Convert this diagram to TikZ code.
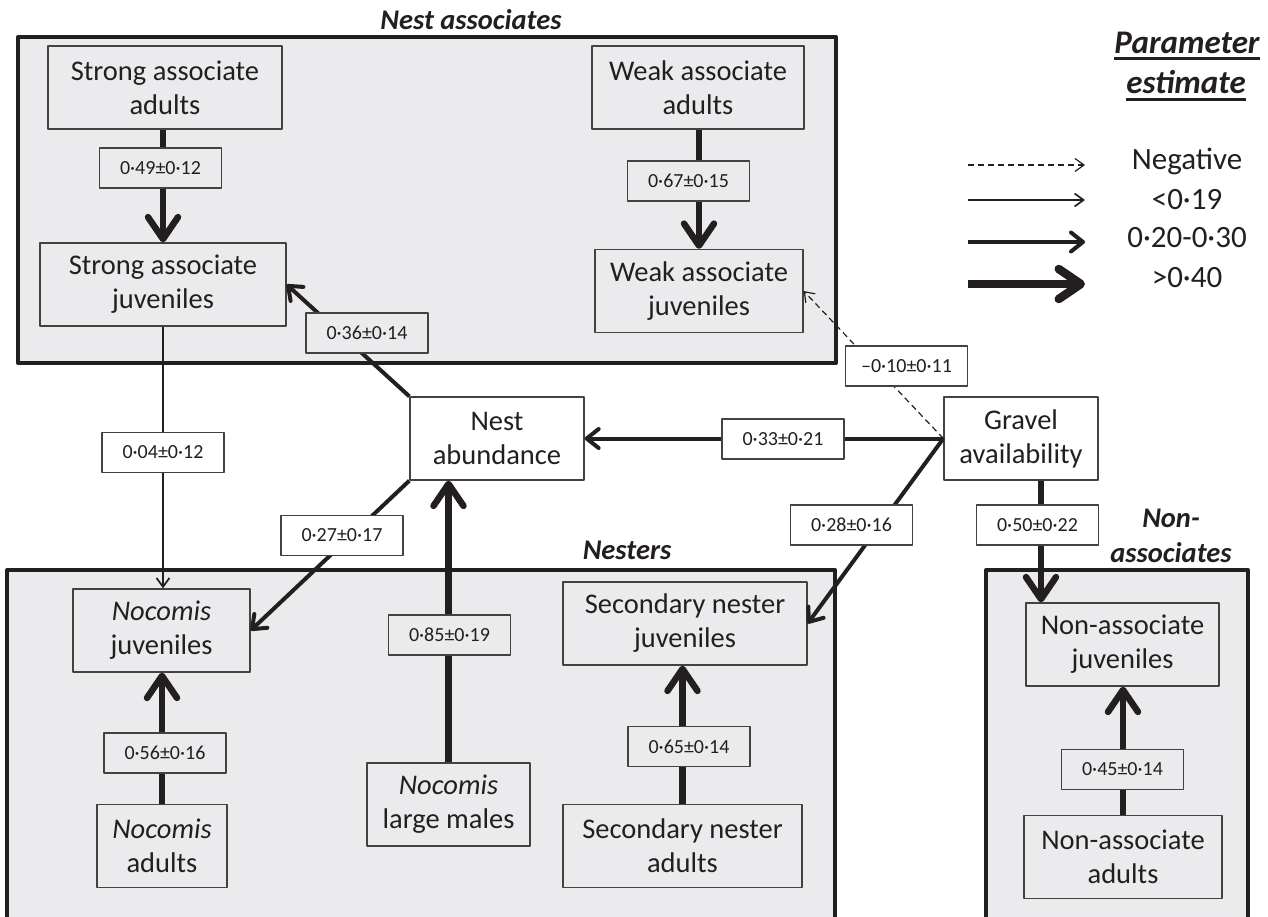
\documentclass[tikz,border=0pt]{standalone}
\usepackage{fontspec}
\setmainfont{Carlito}
\usetikzlibrary{arrows.meta}
\definecolor{panel}{RGB}{235,235,237}
\definecolor{ink}{RGB}{35,31,32}
\begin{document}
\begin{tikzpicture}[x=1pt,y=-1pt,line join=round,
    box/.style={draw=ink!85,line width=1.3pt,align=center,inner sep=0pt,text=ink,
        minimum width=#1,minimum height=83pt,font=\fontsize{28.5}{34}\selectfont},
    est/.style={draw=ink!85,line width=1.3pt,fill=white,minimum width=122pt,minimum height=40pt,
        inner sep=0pt,text=ink,font=\fontsize{20}{24}\selectfont},
    group/.style={draw=ink,line width=4pt,fill=panel},
    title/.style={text=ink,align=center,font=\fontsize{28.5}{35}\selectfont\bfseries\itshape},
    weak/.style={draw=ink,line width=1.7pt,-{Straight Barb[length=9pt,width=13pt]}},
    neg/.style={weak,line width=1.2pt,dash pattern=on 6pt off 4pt},
    mid/.style={draw=ink,line width=4pt,-{Straight Barb[length=12pt,width=19pt,round]}},
    strong/.style={draw=ink,line width=6.5pt,-{Straight Barb[length=22pt,width=30pt,round]}},
    leghigh/.style={strong,line width=8.5pt}]
    \useasboundingbox (0,0) rectangle (1268,916);

    \draw[group] (18,37) rectangle (836,363);
    \draw[group] (7,570) rectangle (835,935);
    \draw[group] (986,570) rectangle (1248,935);
    \node[title] (tassoc) at (471,20) {Nest associates};
    \node[title] (tnest) at (627,550) {Nesters};
    \node[title] (tnon) at (1171,536) {Non-\\associates};

    \node[box=234pt] (saa) at (165,87.5) {Strong associate\\adults};
    \node[box=246pt] (saj) at (163,284.5) {Strong associate\\juveniles};
    \node[box=212pt] (waa) at (698,87.5) {Weak associate\\adults};
    \node[box=208pt] (waj) at (699,291) {Weak associate\\juveniles};
    \node[box=174pt,fill=white] (nest) at (497,438.5) {Nest\\abundance};
    \node[box=154pt,fill=white] (gravel) at (1021,438.5) {Gravel\\availability};
    \node[box=177pt] (nocj) at (161.5,630.5) {\textit{Nocomis}\\juveniles};
    \node[box=130pt] (noca) at (162,846) {\textit{Nocomis}\\adults};
    \node[box=163pt] (nocm) at (448.5,804.5) {\textit{Nocomis}\\large males};
    \node[box=244pt] (snj) at (685,623.5) {Secondary nester\\juveniles};
    \node[box=239pt] (sna) at (682.5,846) {Secondary nester\\adults};
    \node[box=193pt] (naj) at (1122.5,644.5) {Non-associate\\juveniles};
    \node[box=198pt] (naa) at (1123,857) {Non-associate\\adults};

    \draw[strong] (saa.south -| saj) -- (saj.north);
    \draw[strong] (waa.south -| waj) -- (waj.north);
    \draw[mid] (nest.north west) -- (saj.east);
    \draw[weak] (saj.south) -- (saj.south |- nocj.north);
    \draw[mid] (nest.south west) -- (nocj.east);
    \draw[strong] (nocm.north) -- (nocm.north |- nest.south);
    \draw[strong] (noca.north) -- (noca.north |- nocj.south);
    \draw[strong] (sna.north) -- (sna.north |- snj.south);
    \draw[strong] (naa.north) -- (naa.north |- naj.south);
    \draw[mid] (gravel.west) -- (nest.east);
    \draw[neg] (gravel.west) -- (waj.east);
    \draw[mid] (gravel.west) -- (snj.east);
    \draw[strong] ([xshift=20pt]gravel.south) -- ([xshift=20pt]gravel.south |- naj.north);

    \node[est,fill=panel] (l49) at (160.5,168) {0·49±0·12};
    \node[est,fill=panel] (l36) at (367,333) {0·36±0·14};
    \node[est,fill=panel] (l67) at (688.5,181) {0·67±0·15};
    \node[est] (l10) at (906.5,366) {–0·10±0·11};
    \node[est] (l04) at (163,452.5) {0·04±0·12};
    \node[est] (l33) at (783,439) {0·33±0·21};
    \node[est] (l27) at (342,535.5) {0·27±0·17};
    \node[est] (l28) at (851.5,525) {0·28±0·16};
    \node[est] (l50) at (1037.5,525) {0·50±0·22};
    \node[est,fill=panel] (l85) at (449.5,635) {0·85±0·19};
    \node[est,fill=panel] (l56) at (165,753) {0·56±0·16};
    \node[est,fill=panel] (l65) at (689,746.5) {0·65±0·14};
    \node[est,fill=panel] (l45) at (1122.5,769.5) {0·45±0·14};

    \node[title,inner sep=0pt,font=\fontsize{33}{38}\selectfont\bfseries\itshape] (tpar) at (1187,43) {Parameter};
    \node[title,inner sep=0pt,font=\fontsize{33}{38}\selectfont\bfseries\itshape] (test) at (1186,82) {estimate};
    \draw[ink,line width=3pt] ([yshift=-5pt]tpar.base west) -- ([yshift=-5pt]tpar.base east);
    \draw[ink,line width=3pt] ([yshift=-6pt]test.base west) -- ([yshift=-6pt]test.base east);
    \foreach \n/\y/\ty/\sty/\txt in {neg/165/161/neg/Negative,low/200/200/weak/<0·19,
        med/242/238/mid/0·20-0·30,high/284/278/leghigh/>0·40} {
        \coordinate (\n a) at (968,\y);
        \coordinate (\n b) at (1085,\y);
        \draw[\sty] (\n a) -- (\n b);
        \node[text=ink,font=\fontsize{31}{37}\selectfont] (\n txt) at (1187,\ty) {\txt};
    }
\end{tikzpicture}
\end{document}
